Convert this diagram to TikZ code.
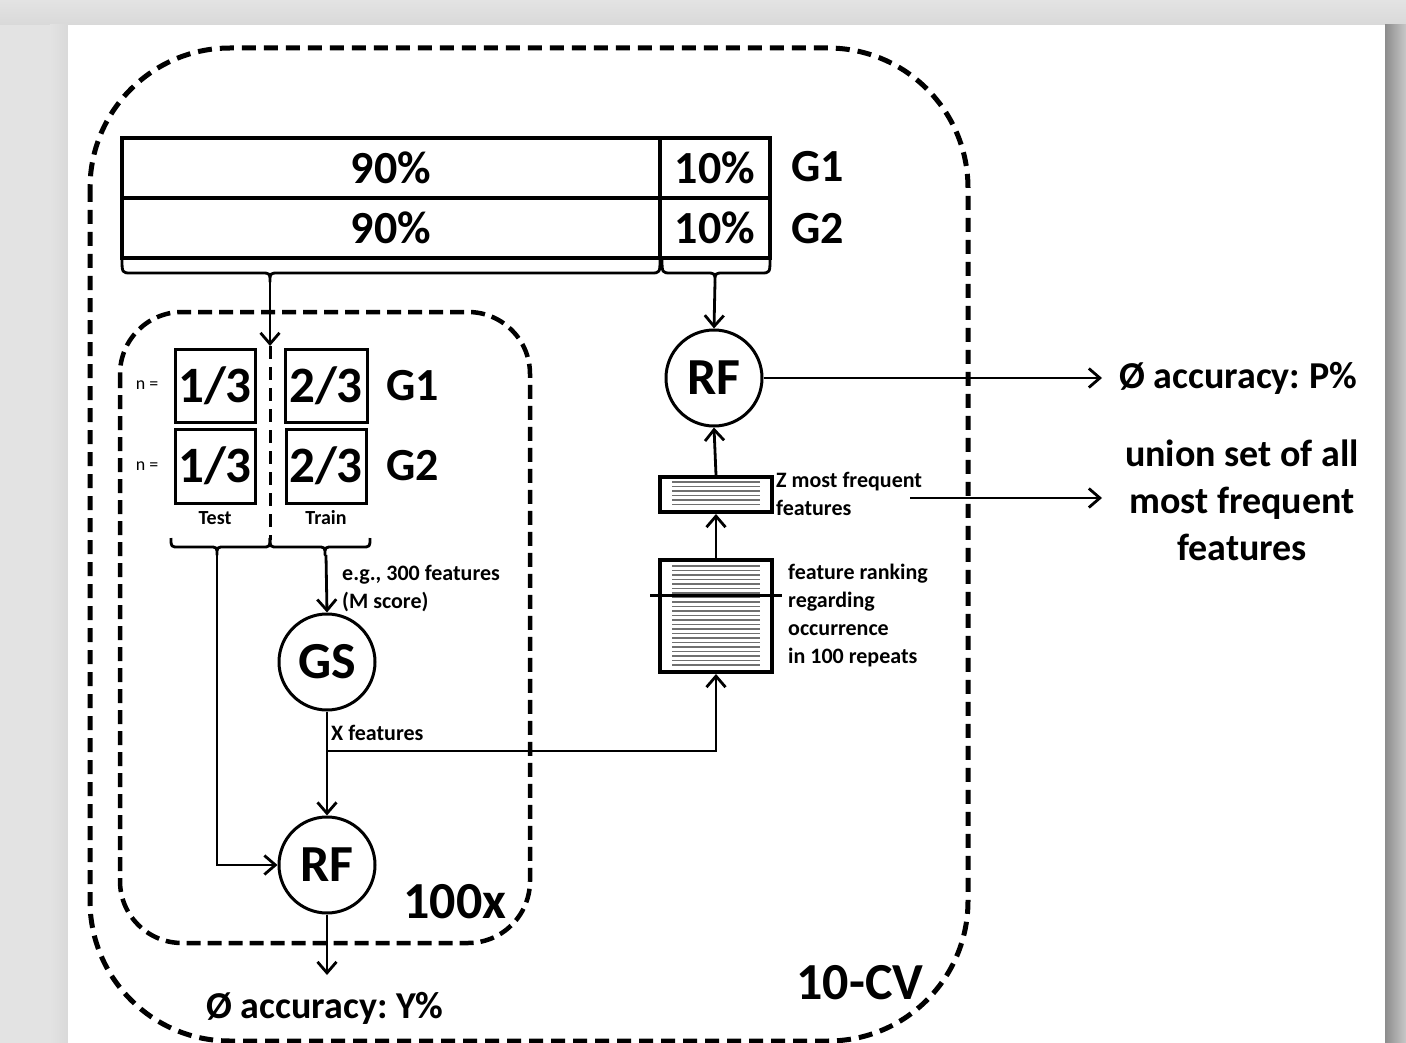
\documentclass[tikz,border=0pt]{standalone}
\usepackage{fontspec}
\setmainfont{Carlito}
\usetikzlibrary{arrows.meta}
\definecolor{bggray}{HTML}{E3E3E3}
\definecolor{topgray}{HTML}{D9D9D9}
\definecolor{shadowdark}{HTML}{8C8C8C}
\definecolor{shadowlight}{HTML}{C8C8C8}
\definecolor{rulegray}{HTML}{707070}
\frenchspacing
\begin{document}
\begin{tikzpicture}[x=1pt,y=-1pt,
  arr/.style={line width=2.8pt,-{Straight Barb[length=11pt,width=19pt]}},
  bracestyle/.style={line width=2.8pt,line join=round},
  outerbox/.style={line width=5pt,dash pattern=on 14pt off 8pt,rounded corners=140pt},
  innerbox/.style={line width=4.5pt,dash pattern=on 14pt off 7pt,rounded corners=62pt},
  cell/.style={draw,line width=4pt,inner sep=0pt,font=\fontsize{46}{52}\selectfont\bfseries},
  frac/.style={draw,line width=3pt,inner sep=0pt,font=\fontsize{51}{56}\selectfont\bfseries},
  circ/.style={draw,circle,line width=3pt,inner sep=0pt,minimum size=96pt,font=\fontsize{52}{58}\selectfont\bfseries},
  glabel/.style={inner sep=0pt,anchor=west,font=\fontsize{46}{52}\selectfont\bfseries},
  biglabel/.style={inner sep=0pt,font=\fontsize{52}{58}\selectfont\bfseries},
  acclabel/.style={inner sep=0pt,align=center,font=\fontsize{38}{47}\selectfont\bfseries},
  smalllabel/.style={inner sep=0pt,anchor=west,align=left,font=\fontsize{22}{28}\selectfont\bfseries},
  tinylabel/.style={inner sep=0pt,font=\fontsize{20}{24}\selectfont\bfseries},
  nlabel/.style={inner sep=0pt,font=\fontsize{18}{22}\selectfont},
  featbox/.style={draw,line width=4pt,inner sep=0pt,minimum width=112pt},
  featline/.style={rulegray,line width=1.3pt}
]
\useasboundingbox (0,0) rectangle (1406,1043);
% background and card
\fill[bggray] (0,0) rectangle (1406,1043);
\shade[top color=bggray,bottom color=topgray] (0,0) rectangle (1406,25);
\shade[left color=bggray,right color=topgray] (50,25) rectangle (68,1043);
\shade[left color=shadowdark,right color=shadowlight] (1385,25) rectangle (1406,1043);
\fill[white] (68,25) rectangle (1385,1043);

% outer and inner dashed boxes
\draw[outerbox] (90,48) rectangle (968,1041);
\draw[innerbox] (120,312) rectangle (530,943);

% top table
\node[cell,minimum width=538pt,minimum height=60pt] (c11) at (391,168) {90\%};
\node[cell,minimum width=110pt,minimum height=60pt] (c12) at (715,168) {10\%};
\node[cell,minimum width=538pt,minimum height=60pt] (c21) at (391,228) {90\%};
\node[cell,minimum width=110pt,minimum height=60pt] (c22) at (715,228) {10\%};
\node[glabel] (g1top) at (791,167) {G1};
\node[glabel] (g2top) at (791,229) {G2};

% braces under table
\draw[bracestyle] (122,258) .. controls (122,273) .. (131,273) -- (261,273)
  .. controls (270,273) .. (270,282) .. controls (270,273) .. (279,273) -- (651,273)
  .. controls (660,273) .. (660,258);
\draw[bracestyle] (662,258) .. controls (662,273) .. (671,273) -- (706,273)
  .. controls (715,273) .. (715,282) .. controls (715,273) .. (724,273) -- (761,273)
  .. controls (770,273) .. (770,258);
\coordinate (b1tip) at (270,282);
\coordinate (b2tip) at (715,282);
\coordinate (splittop) at (270,346);

% inner fractions
\node[frac,minimum width=80pt,minimum height=73pt] (f11) at (215,385.5) {1/3};
\node[frac,minimum width=82pt,minimum height=73pt] (f12) at (326,385.5) {2/3};
\node[frac,minimum width=80pt,minimum height=74pt] (f21) at (215,466) {1/3};
\node[frac,minimum width=80pt,minimum height=74pt] (f22) at (326,466) {2/3};
\node[nlabel] (n1) at (147,385) {n =};
\node[nlabel] (n2) at (147,466) {n =};
\node[glabel] (g1in) at (386,386) {G1};
\node[glabel] (g2in) at (386,466) {G2};
\node[tinylabel] (test) at (215,518) {Test};
\node[tinylabel] (train) at (326,518) {Train};

\draw[arr] (b1tip) -- (splittop);
\coordinate (splitbot) at (270,540);
\draw[line width=3pt,dash pattern=on 13pt off 8pt] (splittop) -- (splitbot);

% lower braces
\draw[bracestyle] (171,538) .. controls (171,547) .. (179,547) -- (209,547)
  .. controls (217,547) .. (217,555) .. controls (217,547) .. (225,547) -- (262,547)
  .. controls (270,547) .. (270,538);
\draw[bracestyle] (270,538) .. controls (270,547) .. (278,547) -- (317,547)
  .. controls (325,547) .. (325,555) .. controls (325,547) .. (333,547) -- (362,547)
  .. controls (370,547) .. (370,538);
\coordinate (testtip) at (217,555);
\coordinate (traintip) at (326,555);

% circles
\node[circ] (gs) at (327,662) {GS};
\node[circ] (rfin) at (327,865) {RF};
\node[circ] (rfout) at (714,378) {RF};

\draw[arr] (traintip) -- (gs.north);
\node[smalllabel] (eg) at (342,589) {e.g., 300 features\\(M score)};
\draw[arr] (gs.south) -- (rfin.north);
\node[smalllabel] (xf) at (331,733) {X features};
\draw[arr] (testtip) |- (rfin.west);

% feature boxes
\node[featbox,minimum height=112pt] (rank) at (716,616) {};
\node[featbox,minimum height=35pt] (zbox) at (716,494.5) {};
\foreach \yy in {566,570.5,...,667} \draw[featline] (672,\yy) -- (760,\yy);
\foreach \yy in {482,486.5,...,508} \draw[featline] (672,\yy) -- (760,\yy);
\draw[line width=3pt] (650,595) -- (782,595);

\coordinate (branch) at (327,751);
\draw[arr] (branch) -| (rank.south);
\draw[arr] (rank.north) -- (zbox.south);
\draw[arr] (zbox.north) -- (rfout.south);
\draw[arr] (b2tip) -- (rfout.north);

\node[smalllabel] (zl) at (776,494) {Z most frequent\\features};
\node[smalllabel] (rl) at (788,615.5) {feature ranking\\regarding\\occurrence\\in 100 repeats};

% outputs
\coordinate (accpend) at (1102,378);
\draw[arr] (rfout.east) -- (accpend);
\node[acclabel,anchor=west] (accp) at (1119,378) {Ø accuracy: P\%};
\coordinate (unionstart) at (910,498);
\coordinate (unionend) at (1102,498);
\draw[arr] (unionstart) -- (unionend);
\node[acclabel] (union) at (1242,500) {union set of all\\most frequent\\features};

\coordinate (accyend) at (327,975);
\draw[arr] (rfin.south) -- (accyend);
\node[acclabel] (accy) at (325,1008) {Ø accuracy: Y\%};

\node[biglabel] (hundred) at (455,902) {100x};
\node[biglabel] (tencv) at (860,983) {10-CV};
\end{tikzpicture}
\end{document}
